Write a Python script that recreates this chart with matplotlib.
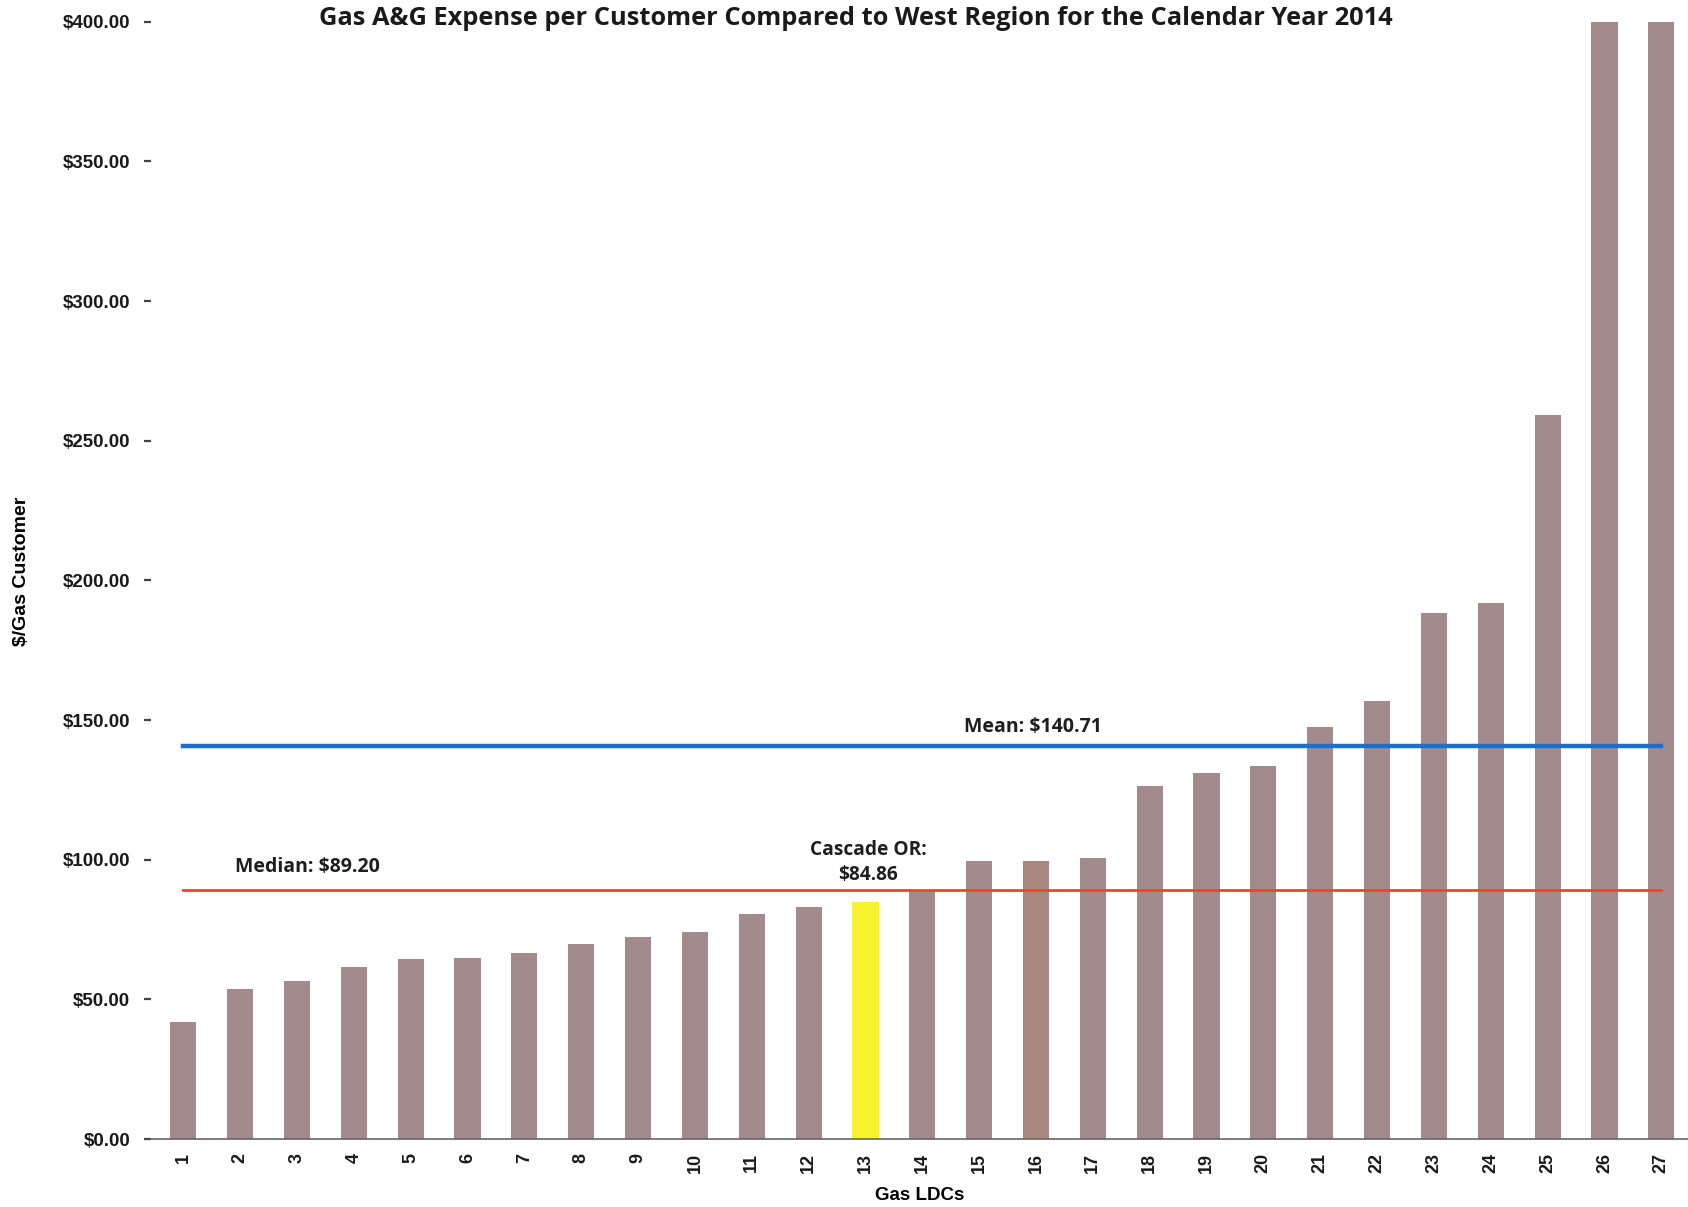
import numpy as np
import matplotlib
matplotlib.use('Agg')
import matplotlib.pyplot as plt

# datos por distribuidora (ordenados de menor a mayor gasto)
ldcs = list(range(1, 28))
gasto = [42.0, 53.6, 56.6, 61.7, 64.4, 64.7, 66.7, 69.7, 72.4, 74.0,
         80.5, 82.9, 84.86, 89.20, 99.4, 99.4, 100.6, 126.4, 131.0, 133.7,
         147.6, 156.8, 188.4, 191.9, 259.3, 590.0, 612.4]
media = 140.71
mediana = 89.20
cascade_idx = 13
y_ticks = [0, 50, 100, 150, 200, 250, 300, 350, 400]

color_barra = '#a38b8d'
colores = [color_barra] * len(ldcs)
colores[cascade_idx - 1] = '#f7f32e'
colores[15] = '#a8877f'

fig = plt.figure(figsize=(16.88, 12.07), dpi=100)
ax = fig.add_axes([0.0894, 0.0563, 0.9106, 0.9257])

ax.bar(ldcs, gasto, width=0.46, color=colores, zorder=2)

# lineas de media y mediana
ax.plot([1, 27], [media, media], color='#1c6fd1', lw=3.2, zorder=3)
ax.plot([1, 27], [mediana, mediana], color='#ec4530', lw=2.0, zorder=3)

fuente = ['Open Sans', 'DejaVu Sans']
ax.text(15.94, 147.6, 'Mean: $140.71', ha='center', va='center',
        fontsize=14, fontweight='bold', family=fuente, color='#1e1e1e')
ax.text(3.18, 97.5, 'Median: $89.20', ha='center', va='center',
        fontsize=14, fontweight='bold', family=fuente, color='#1e1e1e')
ax.text(13.05, 99.0, 'Cascade OR:\n$84.86', ha='center', va='center',
        fontsize=13.8, fontweight='bold', family=fuente, color='#1e1e1e',
        linespacing=1.3)

ax.set_xlim(0.43, 27.47)
ax.set_ylim(0, 400)

ax.set_yticks(y_ticks)
ax.set_yticklabels(['${:.2f}'.format(v) for v in y_ticks],
                   fontsize=13.5, fontweight='bold', family='Liberation Sans',
                   color='#1a1a1a')
ax.tick_params(axis='y', length=5, width=1.6, pad=10, color='#444444')

ax.set_xticks(ldcs)
ax.set_xticklabels([str(v) for v in ldcs], rotation=90, fontsize=13,
                   fontweight='bold', family='Liberation Sans', color='#1a1a1a')
ax.tick_params(axis='x', length=0, pad=10)

for lado in ['top', 'right', 'left']:
    ax.spines[lado].set_visible(False)
ax.spines['bottom'].set_color('#666666')
ax.spines['bottom'].set_linewidth(1.2)

ax.set_xlabel('Gas LDCs', fontsize=13.5, fontweight='bold',
              family='Liberation Sans', labelpad=10)
fig.text(0.0125, 0.527, '$/Gas Customer', rotation=90, ha='center',
         va='center', fontsize=14, fontweight='bold', family='Liberation Sans')

fig.text(0.507, 0.985, 'Gas A&G Expense per Customer Compared to West Region '
         'for the Calendar Year 2014', ha='center', va='center', fontsize=18.3,
         fontweight='bold', family=fuente, color='#1a1a1a')

fig.savefig('out.png', dpi=100)
